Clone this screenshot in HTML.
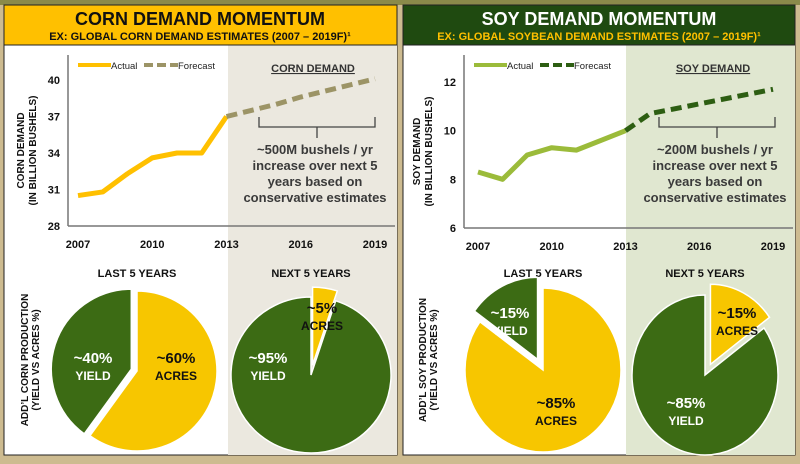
<!DOCTYPE html>
<html><head><meta charset="utf-8"><style>
body{margin:0;width:800px;height:464px;overflow:hidden;background:#cdbb90;font-family:"Liberation Sans",sans-serif}
svg{display:block}
text{font-family:"Liberation Sans",sans-serif}
</style></head><body>
<svg id="s" width="800" height="464" viewBox="0 0 800 464">
<rect x="0" y="0" width="800" height="464" fill="#cdbb90"/>
<rect x="0" y="0" width="800" height="5" fill="#8a8a4a"/>
<g>
<rect x="4" y="5" width="393" height="450" fill="#fff" stroke="#222" stroke-width="1"/>
<rect x="228" y="45" width="169" height="410" fill="#ebe8df"/>
<rect x="4" y="5" width="393" height="40" fill="#ffc000" stroke="#222"/>
<text x="200" y="25" text-anchor="middle" font-size="18" font-weight="bold" fill="#111">CORN DEMAND MOMENTUM</text>
<text x="200" y="40" text-anchor="middle" font-size="11" font-weight="bold" fill="#111">EX: GLOBAL CORN DEMAND ESTIMATES (2007 – 2019F)¹</text>
</g>
<g>
<rect x="403" y="5" width="392" height="450" fill="#fff" stroke="#222"/>
<rect x="626" y="45" width="169" height="410" fill="#e0e7d0"/>
<rect x="403" y="5" width="392" height="40" fill="#1f4a10" stroke="#222"/>
<text x="599" y="25" text-anchor="middle" font-size="18" font-weight="bold" fill="#fff">SOY DEMAND MOMENTUM</text>
<text x="599" y="40" text-anchor="middle" font-size="11" font-weight="bold" fill="#ffc000">EX: GLOBAL SOYBEAN DEMAND ESTIMATES (2007 – 2019F)¹</text>
</g>
<g id="charts"></g>
</svg>
<script>
const years=[2007,2008,2009,2010,2011,2012,2013,2014,2015,2016,2017,2018,2019];
const cornActual=[30.5,30.8,32.3,33.6,34.0,34.0,37.0];
const cornForecast=[37.0,37.5,38.0,38.6,39.1,39.6,40.1];
const cornTicks=[28,31,34,37,40];
const soyActual=[8.3,8.0,9.0,9.3,9.2,9.6,10.0];
const soyForecast=[10.0,10.7,10.9,11.1,11.3,11.5,11.7];
const soyTicks=[6,8,10,12];
const xTickYears=[2007,2010,2013,2016,2019];
const cornLast=[40,60];
const cornNext=[95,5];
const soyLast=[15,85];
const soyNext=[85,15];

const NS="http://www.w3.org/2000/svg";
const G=document.getElementById('charts');
function mk(tag,attrs,parent,txt){const e=document.createElementNS(NS,tag);for(const k in attrs)e.setAttribute(k,attrs[k]);if(txt!==undefined)e.textContent=txt;(parent||G).appendChild(e);return e;}

function lineChart(cfg){
  const g=mk('g',{});
  
  
  const X=y=>cfg.x0+(y-2007)*(cfg.x1-cfg.x0)/12;
  const Y=v=>cfg.yb+(v-cfg.vmin)*(cfg.yt-cfg.yb)/(cfg.vmax-cfg.vmin);
  mk('line',{x1:cfg.ax,y1:55,x2:cfg.ax,y2:cfg.yb,stroke:'#777','stroke-width':1.5},g);
  mk('line',{x1:cfg.ax,y1:cfg.yb,x2:cfg.x1+20,y2:cfg.yb,stroke:'#777','stroke-width':1.5},g);
  cfg.ticks.forEach(t=>{const tx=mk('text',{x:cfg.ax-8,y:Y(t)+4,'text-anchor':'end','font-size':11,'font-weight':'bold',fill:'#111'},g,String(t));
    });
  xTickYears.forEach(yr=>{const tx=mk('text',{x:X(yr),y:cfg.yb+22,'text-anchor':'middle','font-size':11,'font-weight':'bold',fill:'#111'},g,String(yr));
    });
  const ya=mk('text',{transform:`translate(${cfg.ax-44},${(cfg.yb+55)/2+10}) rotate(-90)`,'text-anchor':'middle','font-size':10,'font-weight':'bold',fill:'#111'},g);
  
  mk('tspan',{x:0,y:0},ya,cfg.ylab);mk('tspan',{x:0,y:12},ya,'(IN BILLION BUSHELS)');
  const a=mk('polyline',{points:cfg.actual.map((v,i)=>X(years[i])+','+Y(v)).join(' '),fill:'none',stroke:cfg.ca,'stroke-width':5,'stroke-linejoin':'round'},g);
  
  const f=mk('polyline',{points:cfg.forecast.map((v,i)=>X(years[i+6])+','+Y(v)).join(' '),fill:'none',stroke:cfg.cf,'stroke-width':5,'stroke-dasharray':'11 6'},g);
  
  const lx=cfg.ax+10;
  const lg=mk('g',{},g);
  mk('line',{x1:lx,y1:65,x2:lx+33,y2:65,stroke:cfg.ca,'stroke-width':4},lg);
  mk('text',{x:lx+33,y:69,'font-size':9.5,fill:'#222'},lg,'Actual');
  mk('line',{x1:lx+66,y1:65,x2:lx+100,y2:65,stroke:cfg.cf,'stroke-width':4,'stroke-dasharray':'9 4'},lg);
  mk('text',{x:lx+100,y:69,'font-size':9.5,fill:'#222'},lg,'Forecast');
  const cx=cfg.calloutX;
  const h=mk('text',{x:cx,y:72,'text-anchor':'middle','font-size':11,'font-weight':'bold',fill:'#333','text-decoration':'underline'},g,cfg.head);
  
  const br=mk('path',{d:`M${cx-54} 117 V127 H${cx+62} V117 M${cx+4} 127 V138`,fill:'none',stroke:'#444','stroke-width':1.3},g);
  
  const lines=[cfg.note,'increase over next 5','years based on','conservative estimates'];
  lines.forEach((l,i)=>{const t=mk('text',{x:cx+2,y:154+i*16,'text-anchor':'middle','font-size':13,'font-weight':'bold',fill:'#3a3a3a'},g,l);
    });
}
lineChart({name:'corn-line-chart',ax:68,x0:78,x1:375,yb:226,yt:80,vmin:28,vmax:40,ticks:cornTicks,actual:cornActual,forecast:cornForecast,ca:'#ffc000',cf:'#9c9466',ylab:'CORN DEMAND',head:'CORN DEMAND',note:'~500M bushels / yr',calloutX:313});
lineChart({name:'soy-line-chart',ax:464,x0:478,x1:773,yb:228,yt:82,vmin:6,vmax:12,ticks:soyTicks,actual:soyActual,forecast:soyForecast,ca:'#9bbb3a',cf:'#2d5e12',ylab:'SOY DEMAND',head:'SOY DEMAND',note:'~200M bushels / yr',calloutX:713});

const GREEN='#3c6b14',YELLOW='#f7c600';
function pie(cfg){
  const g=mk('g',{});
  const t=mk('text',{x:cfg.cx,y:277,'text-anchor':'middle','font-size':11,'font-weight':'bold',fill:'#111'},g,cfg.title);
  
  const total=cfg.vals.reduce((a,b)=>a+b,0);
  let start=cfg.start;
  cfg.vals.forEach((v,i)=>{
    const sweep=v/total*360, mid=(start+sweep/2)*Math.PI/180;
    const off=i===cfg.explode?cfg.off:0;
    const dx=Math.sin(mid)*off, dy=-Math.cos(mid)*off;
    const cx=cfg.cx+dx, cy=cfg.cy+dy;
    const a0=start*Math.PI/180,a1=(start+sweep)*Math.PI/180;
    const p0=[cx+cfg.rx*Math.sin(a0),cy-cfg.ry*Math.cos(a0)],p1=[cx+cfg.rx*Math.sin(a1),cy-cfg.ry*Math.cos(a1)];
    const s=mk('path',{d:`M${cx} ${cy} L${p0[0]} ${p0[1]} A${cfg.rx} ${cfg.ry} 0 ${sweep>180?1:0} 1 ${p1[0]} ${p1[1]} Z`,fill:cfg.colors[i],stroke:'#fff','stroke-width':1.5},g);
    
    start+=sweep;
  });
  cfg.vals.forEach((v,i)=>{
    const [lx,ly]=cfg.lp[i];
    const tc=cfg.colors[i]===GREEN?'#fff':'#111';
    const a=mk('text',{x:lx,y:ly+6,'text-anchor':'middle','font-size':15,'font-weight':'bold',fill:tc},g,'~'+v+'%');
    
    mk('text',{x:lx,y:ly+23,'text-anchor':'middle','font-size':12,'font-weight':'bold',fill:tc},g,cfg.labels[i]);
  });
}
pie({name:'corn-last-5-pie',title:'LAST 5 YEARS',cx:137,cy:371,rx:80,ry:80,vals:cornLast,start:-144,colors:[GREEN,YELLOW],labels:['YIELD','ACRES'],explode:0,off:6,lp:[[93,357],[176,357]]});
pie({name:'corn-next-5-pie',title:'NEXT 5 YEARS',cx:311,cy:375,rx:80,ry:78,vals:cornNext,start:18,colors:[GREEN,YELLOW],labels:['YIELD','ACRES'],explode:1,off:10,lp:[[268,357],[322,307]]});
pie({name:'soy-last-5-pie',title:'LAST 5 YEARS',cx:543,cy:370,rx:78,ry:82,vals:soyLast,start:-54,colors:[GREEN,YELLOW],labels:['YIELD','ACRES'],explode:0,off:12,lp:[[510,312],[556,402]]});
pie({name:'soy-next-5-pie',title:'NEXT 5 YEARS',cx:705,cy:375,rx:73,ry:80,vals:soyNext,start:54,colors:[GREEN,YELLOW],labels:['YIELD','ACRES'],explode:1,off:12,lp:[[686,402],[737,312]]});
[[28,'ADD\u2019L CORN PRODUCTION','corn-pie-axis-label'],[426,'ADD\u2019L SOY PRODUCTION','soy-pie-axis-label']].forEach(([x,l,n])=>{
  const t=mk('text',{transform:`translate(${x},360) rotate(-90)`,'text-anchor':'middle','font-size':10,'font-weight':'bold',fill:'#111'});
  
  mk('tspan',{x:0,y:0},t,l);mk('tspan',{x:0,y:11},t,'(YIELD VS ACRES %)');
});
</script>
</body></html>
